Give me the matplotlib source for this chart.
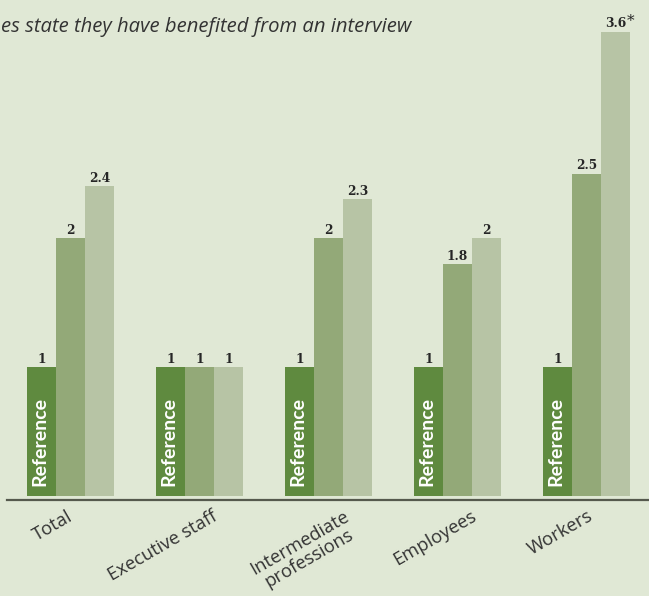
import matplotlib
matplotlib.use("Agg")
import matplotlib.pyplot as plt
import matplotlib.transforms as mtransforms
import numpy as np

categories = ["Total", "Executive staff", "Intermediate\nprofessions", "Employees", "Workers"]
reference = [1, 1, 1, 1, 1]
series_mid = [2, 1, 2, 1.8, 2.5]
series_light = [2.4, 1, 2.3, 2, 3.6]
value_labels_mid = ["2", "1", "2", "1.8", "2.5"]
value_labels_light = ["2.4", "1", "2.3", "2", "3.6"]
significant_light = [False, False, False, False, True]
title = "es state they have benefited from an interview"

bg = "#e0e8d5"
c_dark = "#5f8a3f"
c_mid = "#93a978"
c_light = "#b7c4a5"
text_col = "#262626"
label_col = "#333333"

W, H, DPI = 649, 596, 100
fig = plt.figure(figsize=(W / DPI, H / DPI), dpi=DPI, facecolor=bg)

base_px = 100          # baseline, px from bottom
unit_px = 129          # px per unit value
grp_px = 129           # px between groups
first_px = 70.5        # centre of first group
ax = fig.add_axes([0, base_px / H, 1, 1 - base_px / H])
ax.set_facecolor(bg)
ax.set_ylim(0, (H - base_px) / unit_px)
ax.set_xlim(-first_px / grp_px, (W - first_px) / grp_px)
for s in ax.spines.values():
    s.set_visible(False)
ax.set_yticks([])

x = np.arange(len(categories))
bw = 29 / grp_px

b1 = ax.bar(x - bw, reference, bw, color=c_dark, linewidth=0)
b2 = ax.bar(x, series_mid, bw, color=c_mid, linewidth=0)
b3 = ax.bar(x + bw, series_light, bw, color=c_light, linewidth=0)

vfont = dict(family="DejaVu Serif", weight="bold", size=8.8, color=text_col)
for bars, vals, labs in [(b1, reference, ["1"] * 5), (b2, series_mid, value_labels_mid),
                         (b3, series_light, value_labels_light)]:
    for rect, v, lab in zip(bars, vals, labs):
        ax.annotate(lab, (rect.get_x() + rect.get_width() / 2, v), xytext=(0, 3),
                    textcoords="offset points", ha="center", va="baseline", **vfont)

for rect, v, sig in zip(b3, series_light, significant_light):
    if sig:
        ax.annotate("*", (rect.get_x() + rect.get_width() / 2, v), xytext=(11, 5),
                    textcoords="offset points", ha="center", va="baseline",
                    family="DejaVu Serif", size=11, color=text_col)

for rect in b1:
    ax.annotate("Reference", (rect.get_x() + rect.get_width() / 2, 0), xytext=(-1, 7.5),
                textcoords="offset points", rotation=90, rotation_mode="anchor",
                ha="left", va="center", color="white", family="Lato",
                weight="bold", size=14)

# axis line
ax.axhline(-4 / unit_px, xmin=7 / W, xmax=1, color="#55594d", lw=1.6, clip_on=False)

# category labels
label_nudge_px = [-4, 12, 15, 13, 1]
ax.set_xticks(x)
ax.set_xticklabels(categories, rotation=30, ha="right", va="top",
                   rotation_mode="anchor", family="Open Sans", size=13.2, color=label_col,
                   multialignment="center", linespacing=1.0)
ax.tick_params(axis="x", length=0, pad=8)
for lab, dx in zip(ax.get_xticklabels(), label_nudge_px):
    off = mtransforms.ScaledTranslation(dx / DPI, 0, fig.dpi_scale_trans)
    lab.set_transform(lab.get_transform() + off)

fig.text(1 / W, 1 - 32 / H, title, ha="left", va="baseline", family="Open Sans",
         style="italic", size=14.6, color=label_col)

fig.savefig("out.png", dpi=DPI, facecolor=bg)
